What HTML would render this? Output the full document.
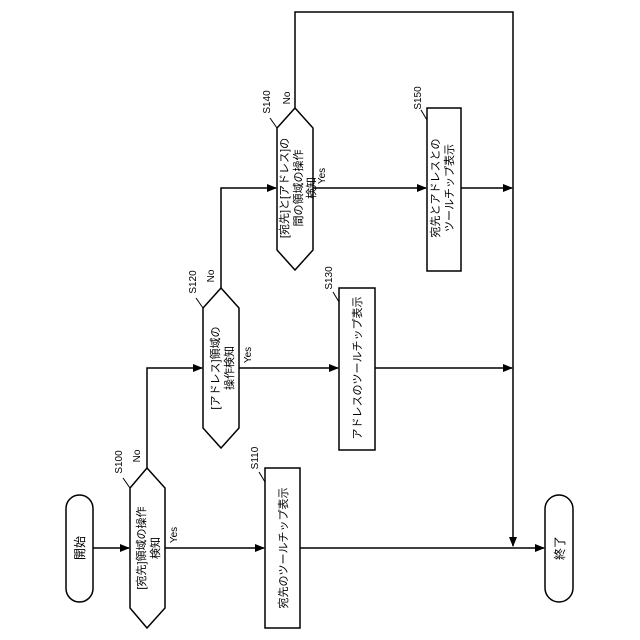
<!DOCTYPE html>
<html><head><meta charset="utf-8"><style>
html,body{margin:0;padding:0;background:#fff;}
svg{display:block;}
text{font-family:"Liberation Sans","Noto Sans CJK JP",sans-serif;fill:#000;}
</style></head><body>
<svg width="640" height="640" viewBox="0 0 640 640" xmlns="http://www.w3.org/2000/svg">
<defs>
<marker id="a" markerWidth="10" markerHeight="8" refX="9" refY="4" orient="auto" markerUnits="userSpaceOnUse">
<path d="M0,0 L10,4 L0,8 z" fill="#000"/></marker>
</defs>
<g fill="none" stroke="#000" stroke-width="1.5">
<!-- start / end pills -->
<rect x="66" y="495" width="27" height="107" rx="13.5"/>
<rect x="545" y="495" width="28" height="107" rx="14"/>
<!-- diamonds (hexagons) -->
<path d="M147,468 L165,488 L165,608 L147,628 L130,608 L130,488 Z"/>
<path d="M221,288 L239,308 L239,428 L221,448 L203,428 L203,308 Z"/>
<path d="M295,108 L313,128 L313,250 L295,270 L277,250 L277,128 Z"/>
<!-- boxes -->
<rect x="265" y="468" width="35" height="160"/>
<rect x="339" y="288" width="36" height="162"/>
<rect x="427" y="108" width="34" height="163"/>
<!-- connectors -->
<line x1="93" y1="548" x2="129" y2="548" marker-end="url(#a)"/>
<line x1="165" y1="548" x2="264" y2="548" marker-end="url(#a)"/>
<line x1="300" y1="548" x2="544" y2="548" marker-end="url(#a)"/>
<polyline points="147,468 147,368 202,368" marker-end="url(#a)"/>
<line x1="239" y1="368" x2="338" y2="368" marker-end="url(#a)"/>
<line x1="375" y1="368" x2="512" y2="368" marker-end="url(#a)"/>
<polyline points="221,288 221,188 276,188" marker-end="url(#a)"/>
<line x1="313" y1="188" x2="426" y2="188" marker-end="url(#a)"/>
<line x1="461" y1="188" x2="512" y2="188" marker-end="url(#a)"/>
<polyline points="295,108 295,12 513,12 513,546" marker-end="url(#a)"/>
<!-- leader lines -->
<line x1="130" y1="488" x2="123" y2="478" stroke-width="1"/>
<line x1="265" y1="482" x2="259" y2="472" stroke-width="1"/>
<line x1="203" y1="308" x2="196" y2="298" stroke-width="1"/>
<line x1="339" y1="302" x2="333" y2="292" stroke-width="1"/>
<line x1="277" y1="128" x2="270" y2="118" stroke-width="1"/>
<line x1="427" y1="120" x2="421" y2="110" stroke-width="1"/>
</g>
<g font-size="11" text-anchor="middle">
<text transform="translate(84,548) rotate(-90)" font-size="12">開始</text>
<text transform="translate(564,548) rotate(-90)" font-size="12">終了</text>
<text transform="translate(145,548) rotate(-90)">[宛先]領域の操作</text>
<text transform="translate(159,548) rotate(-90)">検知</text>
<text transform="translate(287,548) rotate(-90)">宛先のツールチップ表示</text>
<text transform="translate(219,368) rotate(-90)">[アドレス]領域の</text>
<text transform="translate(233,368) rotate(-90)">操作検知</text>
<text transform="translate(361,368) rotate(-90)">アドレスのツールチップ表示</text>
<text transform="translate(288,188) rotate(-90)">[宛先]と[アドレス]の</text>
<text transform="translate(302,188) rotate(-90)">間の領域の操作</text>
<text transform="translate(315,188) rotate(-90)" font-size="11">検知</text>
<text transform="translate(439,188) rotate(-90)">宛先とアドレスとの</text>
<text transform="translate(453,188) rotate(-90)">ツールチップ表示</text>
</g>
<g font-size="10" text-anchor="middle">
<text transform="translate(122,462) rotate(-90)">S100</text>
<text transform="translate(258,458) rotate(-90)">S110</text>
<text transform="translate(196,282) rotate(-90)">S120</text>
<text transform="translate(332,278) rotate(-90)">S130</text>
<text transform="translate(270,102) rotate(-90)">S140</text>
<text transform="translate(421,98) rotate(-90)">S150</text>
<text transform="translate(140,456) rotate(-90)">No</text>
<text transform="translate(214,276) rotate(-90)">No</text>
<text transform="translate(290,98) rotate(-90)">No</text>
<text transform="translate(177,535) rotate(-90)">Yes</text>
<text transform="translate(251,355) rotate(-90)">Yes</text>
<text transform="translate(325,176) rotate(-90)">Yes</text>
</g>
</svg>
</body></html>
